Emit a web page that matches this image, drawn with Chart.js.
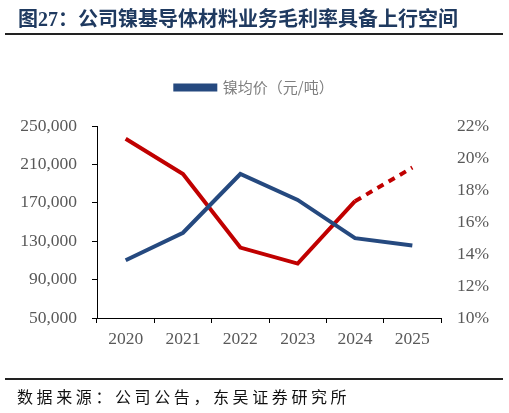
<!DOCTYPE html>
<html>
<head>
<meta charset="utf-8">
<script src="https://cdn.jsdelivr.net/npm/chart.js@4/dist/chart.umd.min.js"></script>
<style>
    html, body { margin: 0; padding: 0; background: #fff; }
    #wrap { position: relative; width: 509px; height: 413px; overflow: hidden; }
    #title {
        position: absolute; left: 18px; top: 3px;
        font-family: "Liberation Serif", "Noto Sans CJK SC", serif;
        font-weight: bold; font-size: 20px; color: #1F3A60; white-space: nowrap;
    }
    .rule { position: absolute; left: 5px; width: 498px; height: 2px; background: #222; }
    #source {
        position: absolute; left: 17px; top: 384px;
        font-family: "Noto Sans CJK SC", sans-serif;
        font-size: 16px; letter-spacing: 3.6px; color: #111; white-space: nowrap;
    }
    #chart { position: absolute; left: 0; top: 0; }
</style>
</head>
<body>
<div id="wrap">
    <canvas id="chart" width="509" height="413"></canvas>
    <div id="title">图27：公司镍基导体材料业务毛利率具备上行空间</div>
    <div class="rule" style="top:33px"></div>
    <div class="rule" style="top:378px"></div>
    <div id="source">数据来源：公司公告，东吴证券研究所</div>
</div>
<script>
const years = ["2020", "2021", "2022", "2023", "2024", "2025"];
const nickelPrice = [110100, 138800, 200000, 173000, 133200, 125600];
const grossMargin = [21.2, 19.0, 14.4, 13.4, 17.3, 19.4];
const priceTicks = [50000, 90000, 130000, 170000, 210000, 250000];
const marginTicks = [10, 12, 14, 16, 18, 20, 22];

const blue = "#25497F";
const red = "#C00000";
const grey = "#595959";

// push the plot area down below the legend without moving the legend itself
const legendGap = {
    id: "legendGap",
    beforeUpdate(chart) {
        const lg = chart.legend;
        if (lg && !lg._gapped) {
            const fit = lg.fit;
            lg.fit = function () { fit.call(this); this.height += 21; };
            lg._gapped = true;
        }
    }
};

const ctx = document.getElementById("chart").getContext("2d");
new Chart(ctx, {
    type: "line",
    data: {
        labels: years,
        datasets: [{
            label: "镍均价（元/吨）",
            data: nickelPrice,
            yAxisID: "y",
            borderColor: blue,
            backgroundColor: blue,
            borderWidth: 4,
            pointRadius: 0,
            tension: 0
        }, {
            label: "毛利率",
            data: grossMargin,
            yAxisID: "y1",
            borderColor: red,
            backgroundColor: red,
            borderWidth: 4,
            pointRadius: 0,
            tension: 0,
            segment: {
                borderDash: c => c.p0DataIndex === 4 ? [7, 6] : undefined
            }
        }]
    },
    plugins: [legendGap],
    options: {
        responsive: false,
        animation: false,
        layout: { padding: { top: 70, left: 0, right: 0, bottom: 0 } },
        plugins: {
            tooltip: { enabled: false },
            legend: {
                position: "top",
                labels: {
                    filter: item => item.datasetIndex === 0,
                    boxWidth: 40,
                    boxHeight: 4,
                    padding: 10,
                    color: "#7F7F7F",
                    font: { family: "'Noto Sans CJK SC', sans-serif", size: 15 }
                }
            }
        },
        scales: {
            x: {
                offset: true,
                grid: { offset: true, drawOnChartArea: false, drawTicks: true, tickLength: 5, color: "#000" },
                border: { display: true, color: "#000", width: 1 },
                ticks: {
                    color: grey, padding: 6,
                    font: { family: "'Liberation Serif', serif", size: 17.5 }
                },
                afterFit: s => { s.height = 95; }
            },
            y: {
                position: "left",
                min: 50000, max: 250000,
                afterBuildTicks: s => { s.ticks = priceTicks.map(v => ({ value: v })); },
                grid: { drawOnChartArea: false, drawTicks: true, tickLength: 5, color: "#000" },
                border: { display: true, color: "#000", width: 1 },
                ticks: {
                    color: grey, padding: 15,
                    font: { family: "'Liberation Serif', serif", size: 17.5 },
                    callback: v => v.toLocaleString("en-US")
                },
                afterFit: s => { s.width = 97; }
            },
            y1: {
                position: "right",
                min: 10, max: 22,
                afterBuildTicks: s => { s.ticks = marginTicks.map(v => ({ value: v })); },
                grid: { display: false, drawTicks: false },
                border: { display: false },
                ticks: {
                    color: grey, padding: 16,
                    font: { family: "'Liberation Serif', serif", size: 17.5 },
                    callback: v => v + "%"
                },
                afterFit: s => { s.width = 68; }
            }
        }
    }
});
</script>
</body>
</html>
